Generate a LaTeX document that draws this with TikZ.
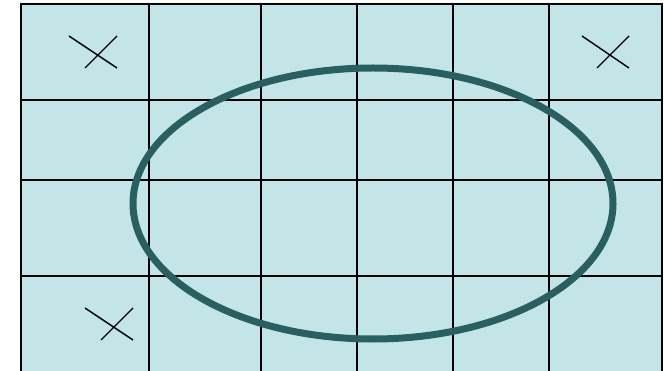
\documentclass[tikz,border=0pt]{standalone}
\definecolor{cellfill}{HTML}{C4E5E8}
\definecolor{ringcol}{HTML}{2A5F62}
\tikzset{
  gridline/.style={black, line width=2pt},
  crossline/.style={black, line width=1.4pt},
  ring/.style={draw=ringcol, line width=7pt}
}
\begin{document}
\begin{tikzpicture}[x=1pt,y=-1pt]
\useasboundingbox (0,0) rectangle (664,371);
\fill[cellfill] (21,4) rectangle (662,371);
% vertical lines
\foreach \x in {21,149,261,357,453,549,662}
  \draw[gridline] (\x,3) -- (\x,372);
% horizontal lines
\foreach \y in {4,100,180,276}
  \draw[gridline] (20,\y) -- (663,\y);
% crosses
\draw[crossline] (69,36) -- (117,68) (85,68) -- (117,36);
\draw[crossline] (582,36) -- (629,68) (597,68) -- (629,36);
\draw[crossline] (85,308) -- (133,340) (101,340) -- (133,308);
% ellipse
\draw[ring] (373,203.5) ellipse [x radius=240, y radius=135.5];
\end{tikzpicture}
\end{document}
